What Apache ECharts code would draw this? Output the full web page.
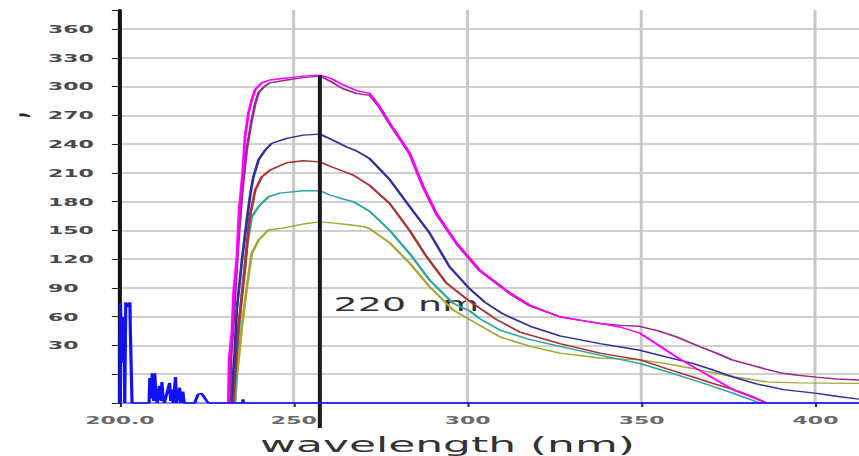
<!DOCTYPE html>
<html>
<head>
<meta charset="utf-8">
<script src="https://cdn.jsdelivr.net/npm/echarts@6/dist/echarts.min.js"></script>
<style>
    html, body { margin: 0; padding: 0; background: #fff; overflow: hidden; }
    #echarts-uv-chart { width: 430px; height: 456px; transform: scaleX(1.99767); transform-origin: 0 0; }
</style>
</head>
<body>
<div id="echarts-uv-chart"></div>
<script>
// [wavelength nm, absorbance]
var blueTrace = [[200,-30],[200.2,74],[200.5,12],[200.7,60],[200.9,20],[201.2,40],[201.4,-30],[201.7,75],[202.3,70],[202.9,75],[203.0,48],[203.4,48],[203.5,-30],
    [208.4,-30],[208.6,-4],[209.0,-25],[209.3,1],[209.7,-28],[210.0,1],[210.4,-20],[210.7,-30],[211.4,-12],[211.8,-28],[212.1,-8],[212.4,-24],[212.8,-30],
    [214.3,-9],[214.6,-28],[215.0,-16],[215.3,-30],[216.0,-3],[216.3,-30],[217.2,-14],[217.5,-30],[218.1,-18],[218.5,-30],
    [221.5,-30],[222.5,-21],[223.5,-20],[225,-28],[225.5,-30],[235.3,-30],[235.4,-26],[235.5,-30],[412.5,-30]];

var magentaTrace = [[231.2,-30],[231.4,15],[232.2,43],[232.7,85],[233.6,119],[234.3,171],[235.3,210],[236,248],[237,273],[237.9,286],[238.9,297],[240.8,304],[243.1,307],[248,309],[252.6,311],[257.5,312],
    [260.4,309],[264.1,302],[268,296],[271.8,293],[274.5,280],[277.6,262],[283.3,231],[287.2,196],[291,168],[296.8,137],[303.4,109],[312.1,85],[318,72],[326.4,60],[333,56],[338,53],[344,49],[349.4,43],
    [355,30],[360,18],[366.6,4],[371,-5],[376.2,-16],[381,-23],[385.8,-30]];

var purpleTrace = [[231.6,-30],[232,20],[232.6,50],[233.4,100],[234.3,150],[235.3,195],[236.5,235],[237.9,265],[238.9,282],[239.9,294],[241.5,300],[243.1,304],[248,307],[252.6,309.5],[257.5,311],
    [260.4,306],[264.1,298],[268,293],[271.8,291],[274.5,279],[277.6,261],[283.3,230],[287.2,195],[291,167],[296.8,136],[303.4,108],[312.1,84],[318,71],[326.4,60],[333,56],[338,53],[344,51],[349.4,50],
    [355,45],[360,39],[366.6,29],[371.5,22],[376,15],[381,10],[386,5],[390.6,1],[395,-1],[400.2,-3],[406,-5],[412.5,-6]];

var navyTrace = [[232,-30],[232.2,-20],[233,22],[233.6,67],[235.1,119],[236.5,161],[237.6,190],[238.4,206],[239.9,224],[241.8,234],[243.7,241],[248,246],[252.7,249.5],[257.5,250.5],
    [261.3,244],[265.2,237],[268,233],[271.8,225],[277.6,203],[283.3,175],[289.1,147],[294.8,112],[300.6,89],[305,75],[310.1,63],[318,50],[326.5,40],[338,32],[349.6,25],[357,18],[364.9,11],
    [370,5],[376.4,-3],[383,-10],[390.8,-16],[400.4,-20],[406,-23],[412.5,-26]];

var redTrace = [[232.5,-30],[233,-6],[234.1,50],[236,112],[237.2,161],[238.9,192],[240.8,206],[243.2,213],[248,220.6],[252.7,222.7],[257.5,221.6],
    [260.4,217],[264,212],[267.1,207.7],[271.8,197],[277.6,178],[283.3,150],[288.1,123],[293.9,95],[300.6,76],[308.3,57],[315,44],[326.5,32],[338,22],[349.6,15],[357,6],[364.9,-3],
    [370,-9],[376.4,-16],[381,-22],[386,-30]];

var tealTrace = [[233,-30],[233.3,0],[233.6,22],[235.1,84],[236.5,133],[237.9,164],[239.9,175],[242.7,185],[246,189],[252.7,191.4],[257.5,191.4],
    [260.4,187],[264,183],[267.1,180],[271.8,170],[277.6,150],[283.3,126],[289.1,98],[295.8,74],[300.6,66],[303.4,58],[309.3,46],[318,36],[326.5,29],[338,20],[349.6,11],[357,3],[364.9,-6],
    [370,-12],[376.4,-20],[384,-30]];

var oliveTrace = [[233.1,-30],[233.6,-3],[235.1,50],[236.5,91],[237.9,126],[239.9,140],[242.7,150.5],[246,152],[252.7,156.7],[257.5,159],
    [262.3,157.4],[266,156],[270,154],[271.8,152],[277.6,137],[283.3,116],[289.1,91],[295.8,67],[300.6,57],[309.3,39],[318,29],[326.5,22],[338,17],[349.6,15],[357.2,11],[366.9,4.4],
    [376.4,-2.6],[386,-8],[395,-9],[412.5,-9.5]];

// vertical cursor line: top at the peak, foot below the axis
var markerTrace = [[257.5,312],[257.5,-56]];
var markerLabel = '220 nm';
var axisTitle = 'wavelength (nm)';

// svg keeps the thin horizontal rules when the page stretches the chart sideways
var uvChart = echarts.init(document.getElementById('echarts-uv-chart'), null, { renderer: 'svg' });

function trace(data, color, width) {
    return {
        type: 'line',
        data: data,
        symbol: 'none',
        lineStyle: { color: color, width: width || 1.4 },
        itemStyle: { color: color },
        silent: true,
        animation: false
    };
}

var marker = trace(markerTrace, '#1a1a1a', 2);
marker.clip = false;
var blue = trace(blueTrace, '#1010ff', 1.6);
blue.clip = false;

var series = [
    trace(oliveTrace, '#a6a632'),
    trace(tealTrace, '#2ea4a4'),
    trace(redTrace, '#a83434'),
    trace(navyTrace, '#30309c'),
    trace(purpleTrace, '#9a2a90'),
    trace(magentaTrace, '#ff00ff'),
    marker,
    blue
];

var uvOption = {
    backgroundColor: '#fff',
    animation: false,
    grid: { left: 60, right: 0, top: 10, bottom: 53, outerBoundsMode: 'none', containLabel: false },
    xAxis: {
        type: 'value',
        min: 200,
        max: 412.5,
        interval: 50,
        name: axisTitle,
        nameLocation: 'middle',
        nameGap: 30,
        nameTextStyle: { fontFamily: 'DejaVu Sans', fontSize: 22, color: '#333', padding: [0, 42, 0, 0] },
        axisLine: { onZero: false, lineStyle: { color: '#8888ff', width: 2 } },
        axisTick: { show: true, length: 4, lineStyle: { color: '#223' } },
        axisLabel: {
            margin: 12,
            fontFamily: 'DejaVu Sans',
            fontWeight: 'bold',
            fontSize: 11,
            color: '#6a6a6a',
            showMaxLabel: false,
            formatter: function (v) {
                if (v % 50 !== 0) return '';
                return v === 200 ? '200.0' : String(v);
            }
        },
        splitLine: { show: true, showMaxLine: false, lineStyle: { color: '#c8c8c8', width: 1.5 } }
    },
    yAxis: {
        type: 'value',
        min: -30,
        max: 380,
        interval: 30,
        axisLine: { show: true, onZero: false, lineStyle: { color: '#111', width: 2 } },
        axisTick: { show: true, length: 4, lineStyle: { color: '#222' } },
        axisLabel: {
            align: 'left',
            margin: 36,
            padding: [0, 0, 8, 0],
            fontFamily: 'DejaVu Sans',
            fontWeight: 'bold',
            fontSize: 11,
            color: '#4a4a4a',
            formatter: function (v) {
                return (v > 0 && v <= 360 && v % 30 === 0) ? String(v) : '';
            }
        },
        splitLine: { show: true, showMaxLine: false, lineStyle: { color: '#d0d0d0', width: 2 } }
    },
    graphic: [
        {
            type: 'text',
            left: 167,
            top: 295,
            style: { text: markerLabel, fontFamily: 'DejaVu Sans', fontSize: 19, fill: '#333' }
        },
        {
            type: 'text',
            x: -1,
            y: 118,
            rotation: Math.PI / 2,
            style: { text: ',', fontFamily: 'DejaVu Sans', fontWeight: 'bold', fontSize: 16, fill: '#223' }
        }
    ],
    series: series
};

uvChart.setOption(uvOption);
window.onresize = uvChart.resize;
</script>
</body>
</html>
